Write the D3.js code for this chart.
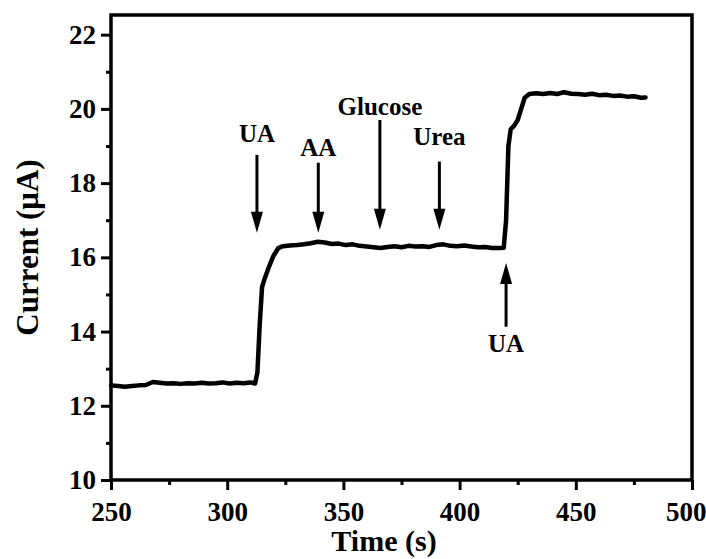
<!DOCTYPE html>
<html>
<head>
<meta charset="utf-8">
<script src="https://cdn.jsdelivr.net/npm/d3@7"></script>
<style>
	body { margin: 0; background: #fff; }
	text { font-family: "Liberation Serif", "Times New Roman", serif; font-weight: bold; fill: #000; }
</style>
</head>
<body>
<div id="chartDiv"></div>
<script>
;(function() {

	var width = 706;
	var height = 559;
	var margin = { top: 15, right: 14, bottom: 79, left: 111 };

	// amperometric trace, time (s)
	var timeValues = [
		250, 253, 256, 259, 262, 265, 268, 271, 274, 277, 280, 283, 286, 289, 292, 295, 298, 301, 304, 307, 310, 312,
		313, 314, 315, 316, 318, 320, 322, 324,
		327, 330, 333, 336, 339, 342, 345, 348, 351, 354, 357, 360, 363, 366, 369, 372, 375, 378, 381, 384, 387, 390,
		393, 396, 399, 402, 405, 408, 411, 414, 417, 419,
		420, 421, 422, 423.5, 425, 426.5, 428, 430,
		433, 436, 439, 442, 445, 448, 451, 454, 457, 460, 463, 466, 469, 472, 475, 478, 480
	];
	// current (uA)
	var currentValues = [
		12.55, 12.53, 12.51, 12.53, 12.55, 12.56, 12.64, 12.62, 12.60, 12.61, 12.59, 12.61, 12.60, 12.62, 12.60, 12.61, 12.63, 12.60, 12.62, 12.61, 12.63, 12.60,
		12.9, 14.2, 15.2, 15.4, 15.75, 16.05, 16.25, 16.30,
		16.32, 16.33, 16.35, 16.38, 16.42, 16.40, 16.36, 16.37, 16.33, 16.35, 16.31, 16.29, 16.27, 16.25, 16.28, 16.30, 16.27, 16.31, 16.29, 16.30, 16.28, 16.33,
		16.35, 16.31, 16.30, 16.32, 16.29, 16.27, 16.28, 16.25, 16.25, 16.26,
		17.0, 19.0, 19.45, 19.55, 19.7, 20.0, 20.3, 20.40,
		20.42, 20.40, 20.43, 20.40, 20.45, 20.41, 20.40, 20.38, 20.41, 20.37, 20.38, 20.35, 20.36, 20.33, 20.34, 20.30, 20.31
	];

	// injection markers
	var markerLabels = ["UA", "AA", "Glucose", "Urea", "UA"];
	var markerTimes = [312.8, 339.2, 365.7, 391.3, 420];
	var markerFrom = [18.76, 18.55, 19.70, 18.58, 14.13];  // arrow tail (uA)
	var markerTo = [16.66, 16.66, 16.74, 16.74, 15.85];    // arrow tip (uA)
	var labelValues = [19.11, 18.73, 19.84, 19.03, 13.46];  // label baseline (uA)

	var xTicks = [250, 300, 350, 400, 450, 500];
	var yTicks = [10, 12, 14, 16, 18, 20, 22];
	var xDomain = [250, 500];
	var yDomain = [10, 22.53];

	var chart;
	var chartWidth = width - margin.left - margin.right;
	var chartHeight = height - margin.top - margin.bottom;

	init();

	function init() {
		chart = d3.select("#chartDiv").append("svg")
			.attr("width", width)
			.attr("height", height);

		chart.xScale = d3.scaleLinear().domain(xDomain).range([0, chartWidth]);
		chart.yScale = d3.scaleLinear().domain(yDomain).range([chartHeight, 0]);

		chart.plotArea = chart.append("g")
			.attr("transform", "translate(" + margin.left + "," + margin.top + ")");

		drawLine();
		drawMarkers();
		createAxes();
	}

	function createAxes() {
		var g = chart.plotArea;

		// frame
		g.append("rect")
			.attr("width", chartWidth)
			.attr("height", chartHeight)
			.attr("fill", "none")
			.attr("stroke", "#000")
			.attr("stroke-width", 3.5);

		// minor ticks
		var xMinor = d3.range(275, 500, 50);
		var yMinor = d3.range(11, 22.5, 2);

		g.append("g")
			.attr("transform", "translate(0," + chartHeight + ")")
			.call(d3.axisBottom(chart.xScale).tickValues(xMinor).tickSize(5).tickSizeOuter(0).tickFormat(""))
			.call(styleAxis);

		g.append("g")
			.call(d3.axisLeft(chart.yScale).tickValues(yMinor).tickSize(5).tickSizeOuter(0).tickFormat(""))
			.call(styleAxis);

		// major ticks
		var xAxisG = g.append("g")
			.attr("transform", "translate(0," + chartHeight + ")")
			.call(d3.axisBottom(chart.xScale).tickValues(xTicks).tickSize(10).tickSizeOuter(0).tickPadding(12))
			.call(styleAxis);

		// last label sits against the page edge
		xAxisG.selectAll(".tick text")
			.filter(function(d) { return d === 500; })
			.attr("text-anchor", "end")
			.attr("x", 14);

		g.append("g")
			.call(d3.axisLeft(chart.yScale).tickValues(yTicks).tickSize(10).tickSizeOuter(0).tickPadding(5))
			.call(styleAxis);

		// axis header labels
		chart.append("text")
			.attr("text-anchor", "middle")
			.style("font-size", "30px")
			.attr("x", 384)
			.attr("y", 551)
			.text("Time (s)");

		chart.append("text")
			.attr("text-anchor", "middle")
			.style("font-size", "31px")
			.attr("transform", "translate(38," + (margin.top + chartHeight / 2) + ") rotate(-90)")
			.text("Current (μA)");
	}

	function styleAxis(sel) {
		sel.select(".domain").remove();
		sel.selectAll(".tick line").attr("stroke", "#000").attr("stroke-width", 3);
		sel.selectAll(".tick text")
			.style("font-size", "27px")
			.style("font-family", "'Liberation Serif', 'Times New Roman', serif")
			.style("font-weight", "bold");
	}

	function drawLine() {
		var pts = timeValues.map(function(t, i) { return [t, currentValues[i]]; });
		var line = d3.line()
			.x(function(d) { return chart.xScale(d[0]); })
			.y(function(d) { return chart.yScale(d[1]); });

		chart.plotArea.append("path")
			.datum(pts)
			.attr("d", line)
			.attr("fill", "none")
			.attr("stroke", "#000")
			.attr("stroke-width", 4.5)
			.attr("stroke-linejoin", "round")
			.attr("stroke-linecap", "round");
	}

	function drawMarkers() {
		var g = chart.plotArea;
		var headLen = 21, headHalf = 6;

		markerLabels.forEach(function(label, i) {
			var x = chart.xScale(markerTimes[i]);
			var y0 = chart.yScale(markerFrom[i]);
			var y1 = chart.yScale(markerTo[i]);
			var dir = y1 > y0 ? 1 : -1;

			g.append("line")
				.attr("x1", x).attr("x2", x)
				.attr("y1", y0).attr("y2", y1 - dir * headLen + dir * 2)
				.attr("stroke", "#000")
				.attr("stroke-width", 3);

			g.append("path")
				.attr("d", "M" + (x - headHalf) + "," + (y1 - dir * headLen) +
					"L" + (x + headHalf) + "," + (y1 - dir * headLen) +
					"L" + x + "," + y1 + "Z")
				.attr("fill", "#000");

			g.append("text")
				.attr("text-anchor", "middle")
				.style("font-size", "25px")
				.attr("x", x)
				.attr("y", chart.yScale(labelValues[i]))
				.text(label);
		});
	}

})();
</script>
</body>
</html>
